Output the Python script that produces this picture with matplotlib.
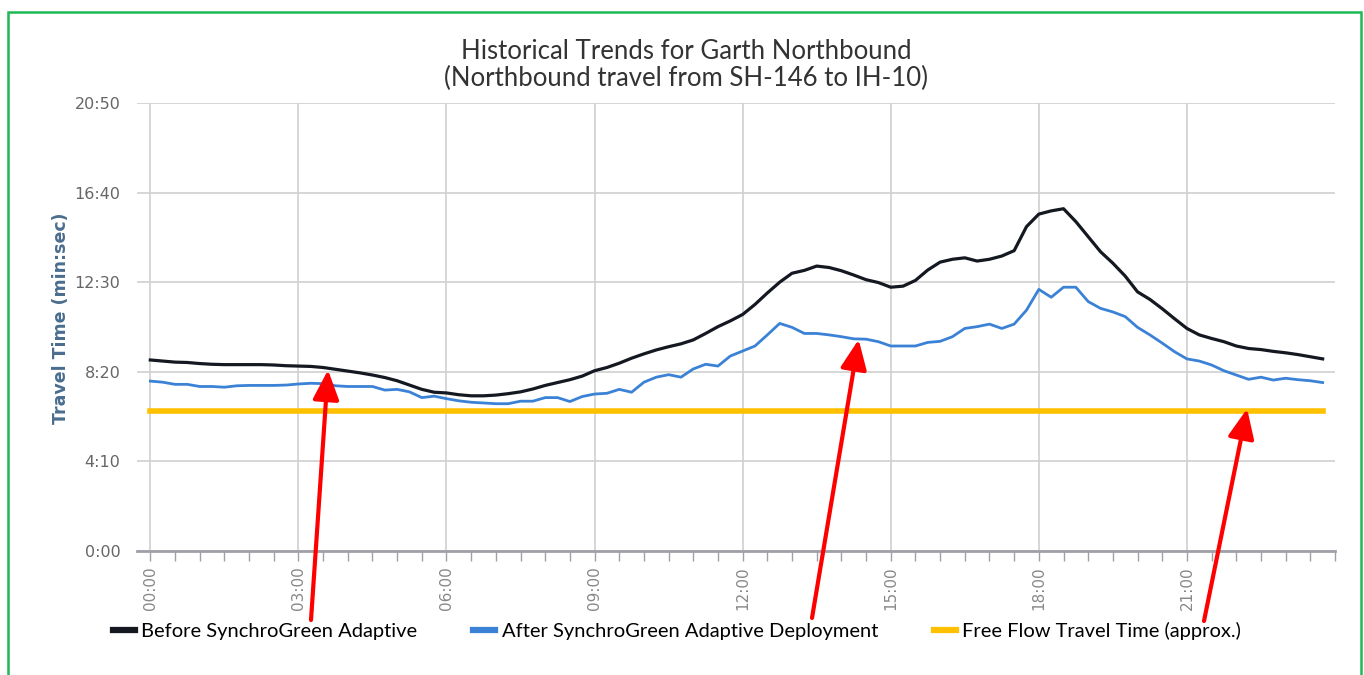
import matplotlib
matplotlib.use("Agg")
import matplotlib.pyplot as plt
import numpy as np
from matplotlib.ticker import FuncFormatter, MultipleLocator
from matplotlib.lines import Line2D
from matplotlib.patches import Rectangle

# time of day in hours, 15 minute bins
hours = np.arange(0, 24, 0.25)

# travel time in seconds
before = [533, 530, 527, 526, 523, 521, 520, 520, 520, 520, 519, 517,
          516, 515, 512, 507, 502, 497, 491, 484, 475, 463, 451, 443,
          441, 436, 433, 433, 435, 439, 444, 452, 462, 470, 478, 488,
          503, 512, 524, 538, 550, 561, 570, 578, 589, 607, 626, 642,
          660, 688, 720, 750, 775, 783, 795, 791, 782, 770, 757, 749,
          736, 739, 755, 784, 806, 814, 818, 809, 814, 823, 838, 905,
          940, 949, 955, 919, 877, 835, 803, 767, 723, 702, 676, 648,
          621, 603, 593, 584, 572, 565, 562, 557, 553, 548, 542, 536]

after = [474, 471, 465, 465, 459, 459, 457, 461, 462, 462, 462, 463,
         466, 468, 467, 461, 459, 459, 459, 449, 451, 444, 428, 432,
         425, 419, 415, 413, 411, 411, 418, 418, 428, 428, 417, 431,
         438, 440, 451, 443, 471, 485, 492, 485, 508, 521, 516, 544,
         558, 572, 603, 635, 624, 607, 607, 603, 598, 592, 591, 584,
         572, 572, 572, 582, 585, 598, 621, 626, 633, 621, 633, 672,
         730, 708, 736, 736, 696, 677, 667, 654, 624, 603, 580, 556,
         536, 530, 519, 503, 491, 479, 485, 477, 482, 478, 475, 470]

free_flow = 392

title = "Historical Trends for Garth Northbound\n(Northbound travel from SH-146 to IH-10)"
labels = ["Before SynchroGreen Adaptive",
          "After SynchroGreen Adaptive Deployment",
          "Free Flow Travel Time (approx.)"]
colors = ["#141820", "#3b82d6", "#ffc000"]

fig = plt.figure(figsize=(13.64, 6.75), dpi=100)
ax = fig.add_axes([137 / 1364, 124 / 675, (1335 - 137) / 1364, (551 - 103) / 675])

ax.plot(hours, before, color=colors[0], lw=2.3, zorder=3)
ax.plot(hours, after, color=colors[1], lw=2.0, zorder=3)
ax.plot([hours[0], hours[-1]], [free_flow, free_flow], color=colors[2], lw=4, zorder=2)

ax.set_xlim(-0.27, 24)
ax.set_ylim(0, 1250)

def mmss(v, pos):
    v = int(round(v))
    return "%d:%02d" % (v // 60, v % 60)

ax.yaxis.set_major_locator(MultipleLocator(250))
ax.yaxis.set_major_formatter(FuncFormatter(mmss))
ax.set_xticks(range(0, 24, 3))
ax.set_xticklabels(["%02d:00" % h for h in range(0, 24, 3)], rotation=90)
ax.xaxis.set_minor_locator(MultipleLocator(0.5))

ax.grid(True, color="#d0d0d0", lw=1.2)
ax.set_axisbelow(True)
for s in ["top", "right", "left"]:
    ax.spines[s].set_visible(False)
ax.spines["bottom"].set_color("#a0a0a8")
ax.spines["bottom"].set_linewidth(2)

ax.tick_params(axis="y", length=0, pad=12, labelsize=11.5, labelcolor="#666666")
ax.tick_params(axis="x", which="both", length=7, width=1, color="#a0a0a8",
               pad=4, labelsize=11, labelcolor="#888888")

ax.set_ylabel("Travel Time (min:sec)", fontsize=12.5, fontweight="bold",
              color="#4a6d8f")
ax.yaxis.set_label_coords(-0.056, 0.52)

fig.text(686 / 1364, 1 - 65 / 675, title, ha="center", va="center",
         fontsize=18.5, color="#333333", family="Lato", linespacing=1.05)

handles = [Line2D([], [], color=c, lw=4.5) for c in colors]
fig.legend(handles, labels, loc="center", bbox_to_anchor=(677 / 1364, 1 - 631 / 675),
           ncol=3, frameon=False, handlelength=1.1, handletextpad=0.3,
           columnspacing=2.8, prop={"family": "Lato", "size": 14.5})

# red arrows
arrow = dict(arrowstyle="-|>,head_length=1.8,head_width=0.8", mutation_scale=10,
             lw=3, color="#ff0000", shrinkA=0, shrinkB=0)
ax.annotate("", xy=(3.6, 505), xytext=(311, 675 - 620), textcoords="figure pixels",
            arrowprops=arrow, annotation_clip=False)
ax.annotate("", xy=(14.35, 590), xytext=(812, 675 - 618), textcoords="figure pixels",
            arrowprops=arrow, annotation_clip=False)
ax.annotate("", xy=(22.22, 397), xytext=(1204, 675 - 621), textcoords="figure pixels",
            arrowprops=arrow, annotation_clip=False)

# green frame
fig.patches.append(Rectangle((8 / 1364, -0.01), (1361 - 8) / 1364, 1 - 12 / 675 + 0.01,
                             transform=fig.transFigure, fill=False,
                             edgecolor="#1db954", lw=1.8))

fig.savefig("out.png", dpi=100)
